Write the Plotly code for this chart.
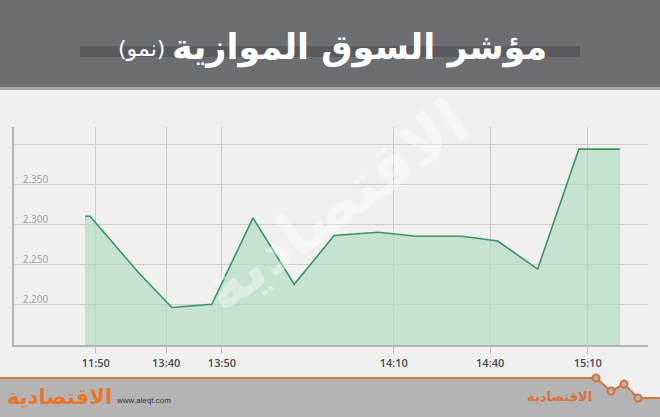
import plotly.graph_objects as go

# ---- data ----
x_pos = [11.2, 12.0, 19.6, 24.9, 31.2, 37.7, 44.2, 50.5, 57.4, 63.4, 70.7, 76.3, 82.6, 89.1, 95.6]
index_values = [2.310, 2.310, 2.240, 2.196, 2.200, 2.308, 2.225, 2.286, 2.290, 2.285, 2.285, 2.279, 2.244, 2.394, 2.394]
tick_pos = [12.9, 24.0, 32.8, 59.9, 75.1, 90.5]
tick_labels = ["11:50", "13:40", "13:50", "14:10", "14:40", "15:10"]
y_ticks = [2.200, 2.250, 2.300, 2.350, 2.400]
y_tick_labels = ["2.200", "2.250", "2.300", "2.350", ""]
title_main = "مؤشر السوق الموازية"
title_sub = "(نمو)"
brand = "الاقتصادية"
site = "www.aleqt.com"

W, H = 660, 417
L, R, T, B = 14, 12, 127, 72
PW, PH = W - L - R, H - T - B


def px(X):
    return (X - L) / PW


def py(Y):
    return (H - B - Y) / PH


fig = go.Figure()
fig.add_trace(go.Scatter(
    x=x_pos, y=index_values, mode="lines",
    line=dict(color="#3a9660", width=1.6),
    fill="tozeroy", fillcolor="rgba(180,221,196,0.70)",
    hoverinfo="skip", showlegend=False,
))

shapes = []
# header
shapes.append(dict(type="rect", xref="paper", yref="paper", x0=px(0), x1=px(W), y0=py(87), y1=py(0),
                   fillcolor="#6d6e72", line_width=0, layer="below"))
shapes.append(dict(type="rect", xref="paper", yref="paper", x0=px(0), x1=px(W), y0=py(90), y1=py(87),
                   fillcolor="#a5a5a7", line_width=0, layer="below"))
shapes.append(dict(type="rect", xref="paper", yref="paper", x0=px(80), x1=px(580), y0=py(57), y1=py(46),
                   fillcolor="#5a5b5e", line_width=0, layer="below"))
# footer band with zigzag
zig = [(596, 378), (611, 391), (624, 384), (638, 398), (660, 398)]
path = f"M {px(0)} {py(378)} L {px(596)} {py(378)} "
for (a, b) in zig[1:]:
    path += f"L {px(a)} {py(b)} "
path += f"L {px(660)} {py(417)} L {px(0)} {py(417)} Z"
shapes.append(dict(type="path", xref="paper", yref="paper", path=path,
                   fillcolor="#b4b4b4", line_width=0))
lp = f"M {px(0)} {py(378)} L {px(596)} {py(378)} "
for (a, b) in zig[1:]:
    lp += f"L {px(a)} {py(b)} "
shapes.append(dict(type="path", xref="paper", yref="paper", path=lp,
                   line=dict(color="#d9733d", width=2)))
for (a, b) in zig[:4]:
    shapes.append(dict(type="circle", xref="paper", yref="paper",
                       x0=px(a - 3.5), x1=px(a + 3.5), y0=py(b + 3.5), y1=py(b - 3.5),
                       fillcolor="#b4b4b4", line=dict(color="#d9733d", width=2)))

annotations = [
    # watermark
    dict(text=brand, xref="paper", yref="paper", x=px(335), y=py(205), xanchor="center", yanchor="middle",
         textangle=-36, showarrow=False,
         font=dict(family="DejaVu Sans", size=62, color="rgba(255,255,255,0.38)", weight="bold")),
    dict(text=title_main, xref="paper", yref="paper", x=px(549), y=py(47), xanchor="right", yanchor="middle",
         showarrow=False, font=dict(family="DejaVu Sans", size=35, color="white", weight="bold")),
    dict(text=title_sub, xref="paper", yref="paper", x=px(167), y=py(49), xanchor="right", yanchor="middle",
         showarrow=False, font=dict(family="DejaVu Sans", size=22, color="white")),
    # footer logos
    dict(text=brand, xref="paper", yref="paper", x=px(114), y=py(397), xanchor="right", yanchor="middle",
         showarrow=False, font=dict(family="DejaVu Sans", size=21, color="#e8762b", weight="bold")),
    dict(text=site, xref="paper", yref="paper", x=px(114), y=py(400), xanchor="left", yanchor="middle",
         showarrow=False, font=dict(family="Liberation Sans", size=8, color="#333333")),
    dict(text=brand, xref="paper", yref="paper", x=px(594), y=py(396), xanchor="right", yanchor="middle",
         showarrow=False, font=dict(family="DejaVu Sans", size=13, color="#d9733d", weight="bold")),
]

fig.update_layout(
    width=W, height=H,
    margin=dict(l=L, r=R, t=T, b=B, pad=0),
    paper_bgcolor="#f0f0f0", plot_bgcolor="#f0f0f0",
    shapes=shapes, annotations=annotations,
    showlegend=False,
)
fig.update_xaxes(
    range=[0, 100], tickvals=tick_pos, ticktext=tick_labels,
    showgrid=True, gridcolor="#cdcdcd", gridwidth=1,
    ticks="outside", ticklen=7, tickcolor="#c4c4c4", tickwidth=1,
    showline=True, linecolor="#b5b5b5", linewidth=1.5,
    tickfont=dict(family="Open Sans", size=11, color="#4a4a4a", weight=600),
    zeroline=False, fixedrange=True,
)
fig.update_yaxes(
    range=[2.1491, 2.4216], tickvals=y_ticks, ticktext=y_tick_labels,
    showgrid=True, gridcolor="#cdcdcd", gridwidth=1,
    ticks="", showline=True, linecolor="#b5b5b5", linewidth=1.5,
    ticklabelposition="inside", ticklabelstandoff=8, ticklabelshift=-5,
    tickfont=dict(family="Open Sans", size=10, color="#9a9a9a"),
    zeroline=False, fixedrange=True,
)

fig.write_html("out.html", config={"displayModeBar": False},
               post_script="document.body.style.margin='0';document.body.style.background='#f0f0f0';")
